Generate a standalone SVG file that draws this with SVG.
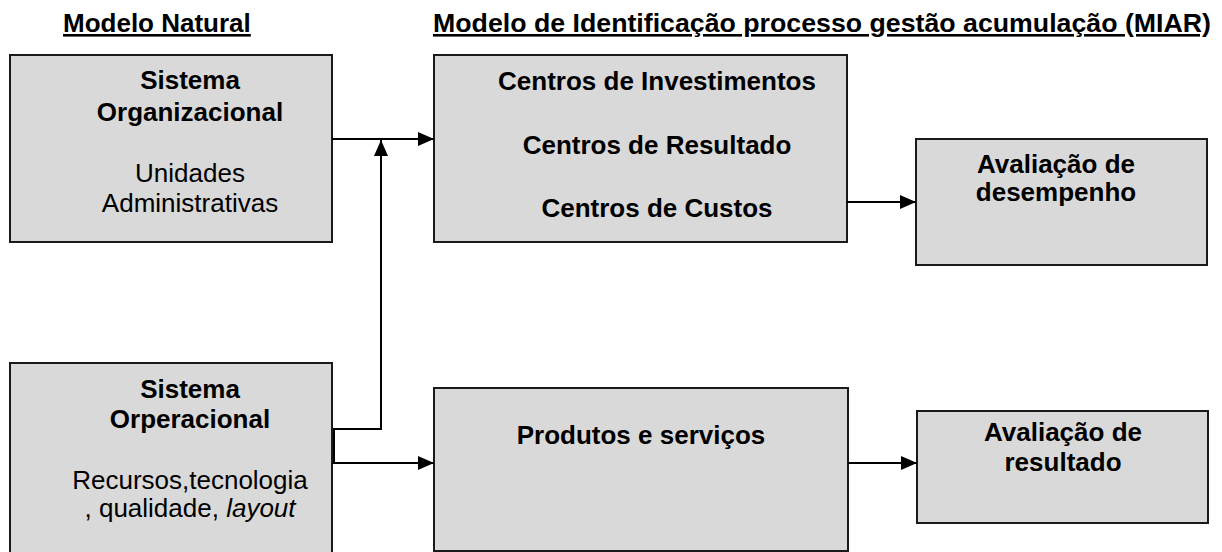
<svg xmlns="http://www.w3.org/2000/svg" width="1222" height="552" viewBox="0 0 1222 552">
<style>
.box{fill:#d9d9d9;stroke:#1a1a1a;stroke-width:2}
.t{font-family:"Liberation Sans",Arial,sans-serif;font-size:26px;fill:#000;text-anchor:middle}
.b{font-weight:bold}
.title{font-family:"Liberation Sans",Arial,sans-serif;font-size:26px;font-weight:bold;fill:#000;text-decoration:underline}
.ln{fill:none;stroke:#000;stroke-width:2}
</style>
<defs>
<marker id="ah" viewBox="0 0 16 14" refX="16" refY="7" markerWidth="16" markerHeight="14" markerUnits="userSpaceOnUse" orient="auto">
<path d="M0,0 L16,7 L0,14 Z" fill="#000"/>
</marker>
</defs>
<g id="titles">
<text class="title" x="63" y="32">Modelo Natural</text>
<text class="title" x="433" y="32" textLength="778" lengthAdjust="spacingAndGlyphs">Modelo de Identificação processo gestão acumulação (MIAR)</text>
</g>
<g id="sistema-organizacional">
<rect class="box" x="10" y="55" width="322" height="187"/>
<text class="t b" x="190" y="89">Sistema</text>
<text class="t b" x="190" y="121">Organizacional</text>
<text class="t" x="190" y="182">Unidades</text>
<text class="t" x="190" y="212">Administrativas</text>
</g>
<g id="centros">
<rect class="box" x="434" y="55" width="413" height="187"/>
<text class="t b" x="657" y="90">Centros de Investimentos</text>
<text class="t b" x="657" y="154">Centros de Resultado</text>
<text class="t b" x="657" y="217">Centros de Custos</text>
</g>
<g id="avaliacao-desempenho">
<rect class="box" x="916" y="139" width="291" height="126"/>
<text class="t b" x="1056" y="173">Avaliação de</text>
<text class="t b" x="1056" y="201">desempenho</text>
</g>
<g id="sistema-operacional">
<rect class="box" x="10" y="363" width="322" height="200"/>
<text class="t b" x="190" y="398">Sistema</text>
<text class="t b" x="190" y="428">Orperacional</text>
<text class="t" x="190" y="489">Recursos,tecnologia</text>
<text class="t" x="190" y="517">, qualidade, <tspan font-style="italic">layout</tspan></text>
</g>
<g id="produtos">
<rect class="box" x="434" y="388" width="414" height="163"/>
<text class="t b" x="641" y="444">Produtos e serviços</text>
</g>
<g id="avaliacao-resultado">
<rect class="box" x="917" y="411" width="291" height="112"/>
<text class="t b" x="1063" y="441">Avaliação de</text>
<text class="t b" x="1063" y="471">resultado</text>
</g>
<g id="connectors">
<line class="ln" x1="332" y1="139" x2="434" y2="139" marker-end="url(#ah)"/>
<polyline class="ln" points="333,429 381,429 381,140" marker-end="url(#ah)"/>
<line class="ln" x1="334" y1="429" x2="334" y2="463"/>
<line class="ln" x1="332" y1="463" x2="434" y2="463" marker-end="url(#ah)"/>
<line class="ln" x1="847" y1="202" x2="916" y2="202" marker-end="url(#ah)"/>
<line class="ln" x1="848" y1="463" x2="917" y2="463" marker-end="url(#ah)"/>
</g>
</svg>
